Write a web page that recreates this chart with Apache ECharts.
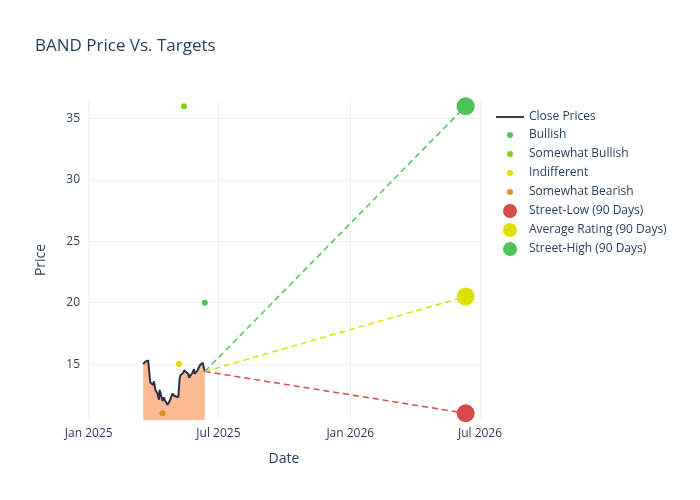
<!DOCTYPE html>
<html lang="en">
<head>
    <meta charset="UTF-8">
    <title>BAND Price Vs. Targets</title>
    <script src="https://cdn.jsdelivr.net/npm/echarts@6/dist/echarts.min.js"></script>
</head>
<body style="margin:0">
    <div id="main" style="width: 700px;height:500px;"></div>
    <script>
        // close prices, business days from 2025-03-18
        const closeStart = '2025-03-18';
        const closeValues = [15.0, 15.1, 15.2, 15.3, 14.6, 13.5, 13.3, 13.6, 12.9, 12.6,
            12.1, 12.9, 12.0, 12.3, 12.1, 11.7, 11.6, 12.0, 12.6, 12.7,
            12.4, 12.5, 12.3, 13.9, 14.1, 14.3, 14.5, 14.4, 14.2, 13.9,
            14.0, 14.3, 14.6, 14.2, 14.5, 14.4, 14.9, 15.1, 15.1, 14.4];
        const closeEnd = '2025-06-12';

        const bullish = [['2025-06-12', 20]];
        const somewhatBullish = [['2025-05-14', 36]];
        const indifferent = [['2025-05-07', 15]];
        const somewhatBearish = [['2025-04-14', 11]];

        const targetDate = '2026-06-11';
        const streetLow = 11;
        const streetAvg = 20.5;
        const streetHigh = 36;

        const ts = s => new Date(s + 'T00:00:00Z').getTime();
        const pts = arr => arr.map(p => [ts(p[0]), p[1]]);

        // spread the close values over the trading days
        const days = [];
        let d = new Date(ts(closeStart));
        const end = new Date(ts(closeEnd));
        while (d <= end) {
            if (d.getUTCDay() !== 0 && d.getUTCDay() !== 6) days.push(d.getTime());
            d = new Date(d.getTime() + 86400000);
        }
        const closeData = closeValues.map((v, i) => [days[Math.round(i * (days.length - 1) / (closeValues.length - 1))], v]);
        const last = closeData[closeData.length - 1];

        const xTicks = ['2025-01-01', '2025-07-01', '2026-01-01', '2026-07-01'].map(ts);
        const months = ['Jan', 'Feb', 'Mar', 'Apr', 'May', 'Jun', 'Jul', 'Aug', 'Sep', 'Oct', 'Nov', 'Dec'];
        const font = 'Open Sans, DejaVu Sans, sans-serif';

        function dot(name, data, color) {
            return { name: name, type: 'scatter', data: pts(data), symbolSize: 6, z: 6,
                     itemStyle: { color: color, opacity: 1 } };
        }
        function target(name, v, color) {
            return [
                { name: name, type: 'scatter', data: [[ts(targetDate), v]], symbolSize: 18, z: 6,
                  itemStyle: { color: color, opacity: 1 } },
                { name: name + ' line', type: 'line', data: [last, [ts(targetDate), v]], symbol: 'none', z: 4,
                  lineStyle: { color: color, type: [6, 4], width: 1.5 } }
            ];
        }
        const small = 'path://M0,0L0,0M14,14L14,14M7,4A3,3 0 1,0 7.01,4Z';

        const myChart = echarts.init(document.getElementById('main'));
        const option = {
            backgroundColor: '#fff',
            textStyle: { fontFamily: font },
            title: { text: 'BAND Price Vs. Targets', left: 30, top: 33,
                textStyle: { fontSize: 17, fontWeight: 'normal', color: '#2a3f5f', fontFamily: font } },
            grid: { left: 88, right: 220, top: 100, bottom: 80 },
            legend: {
                orient: 'vertical', left: 491, top: 106, itemGap: 5, itemWidth: 28, itemHeight: 14,
                textStyle: { color: '#2a3f5f', fontSize: 12 },
                data: [
                    { name: 'Close Prices', icon: 'path://M0,6h30v2h-30z' },
                    { name: 'Bullish', icon: small }, { name: 'Somewhat Bullish', icon: small },
                    { name: 'Indifferent', icon: small }, { name: 'Somewhat Bearish', icon: small },
                    { name: 'Street-Low (90 Days)', icon: 'circle' }, { name: 'Average Rating (90 Days)', icon: 'circle' },
                    { name: 'Street-High (90 Days)', icon: 'circle' }
                ]
            },
            xAxis: {
                type: 'value',
                min: ts('2024-12-31'),
                max: ts('2026-07-01'),
                name: 'Date', nameLocation: 'middle', nameGap: 32,
                nameTextStyle: { color: '#2a3f5f', fontSize: 14 },
                axisLine: { show: false }, axisTick: { show: false, customValues: xTicks },
                splitLine: { show: true, lineStyle: { color: '#ebf0f8' } },
                axisLabel: { customValues: xTicks, color: '#2a3f5f', fontSize: 12,
                    formatter: v => { const t = new Date(v); return months[t.getUTCMonth()] + ' ' + t.getUTCFullYear(); } }
            },
            yAxis: {
                type: 'value', min: 10.45, max: 36.5,
                name: 'Price', nameLocation: 'middle', nameGap: 40,
                nameTextStyle: { color: '#2a3f5f', fontSize: 14 },
                axisLine: { show: false }, axisTick: { show: false, customValues: [15, 20, 25, 30, 35] },
                splitLine: { show: true, lineStyle: { color: '#ebf0f8' } },
                axisLabel: { customValues: [15, 20, 25, 30, 35], color: '#2a3f5f', fontSize: 12 }
            },
            series: [
                { name: 'Close Prices', type: 'line', data: closeData, symbol: 'none',
                  lineStyle: { color: '#2a3047', width: 2 }, itemStyle: { color: '#2a3047' },
                  areaStyle: { color: '#fdbb94', opacity: 1, origin: 'start' }, z: 3 },
                dot('Bullish', bullish, '#4fc25a'),
                dot('Somewhat Bullish', somewhatBullish, '#86cf1f'),
                dot('Indifferent', indifferent, '#dede00'),
                dot('Somewhat Bearish', somewhatBearish, '#e0901f'),
                ...target('Street-Low (90 Days)', streetLow, '#d84a4a'),
                ...target('Average Rating (90 Days)', streetAvg, '#dfe000'),
                ...target('Street-High (90 Days)', streetHigh, '#4cc45a')
            ]
        };
        myChart.setOption(option);
    </script>
</body>
</html>
